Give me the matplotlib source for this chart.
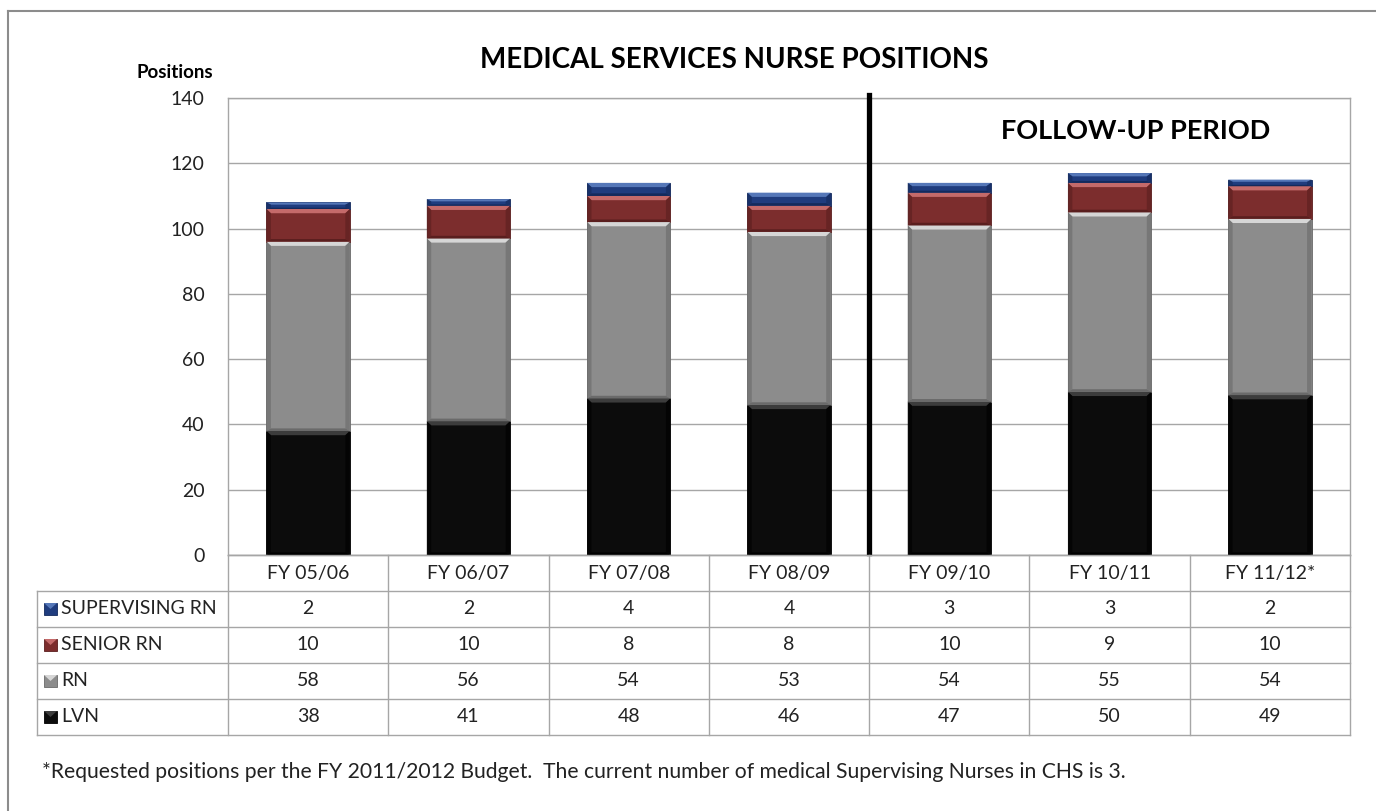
import matplotlib
matplotlib.use("Agg")
import matplotlib.pyplot as plt
from matplotlib.patches import Polygon, Rectangle
from matplotlib.lines import Line2D
from matplotlib.transforms import blended_transform_factory

plt.rcParams["font.family"] = ["Lato", "DejaVu Sans"]

YEARS = ["FY 05/06", "FY 06/07", "FY 07/08", "FY 08/09", "FY 09/10", "FY 10/11", "FY 11/12*"]
LVN = [38, 41, 48, 46, 47, 50, 49]
RN = [58, 56, 54, 53, 54, 55, 54]
SENIOR_RN = [10, 10, 8, 8, 10, 9, 10]
SUPERVISING_RN = [2, 2, 4, 4, 3, 3, 2]

SERIES = [
    ("LVN", LVN, "#0c0c0c", "#3c3c3c", "#000000"),
    ("RN", RN, "#8c8c8c", "#d6d6d6", "#6a6a6a"),
    ("SENIOR RN", SENIOR_RN, "#7c2d2d", "#c46a6a", "#5a1e1e"),
    ("SUPERVISING RN", SUPERVISING_RN, "#1f3c7e", "#5577b8", "#142a5c"),
]
TABLE_ORDER = ["SUPERVISING RN", "SENIOR RN", "RN", "LVN"]

W, H = 1376, 811
GRID = "#a6a6a6"
TXT = "#222222"
FS = 14


def fy(px):
    return 1 - px / H


def fx(px):
    return px / W


def bevel(ax, rect, face, light, dark):
    x, y = rect.get_x(), rect.get_y()
    w, h = rect.get_width(), rect.get_height()
    dx = 0.028
    dy = min(1.3, h / 3)
    # top highlight
    ax.add_patch(Polygon([(x, y + h), (x + w, y + h), (x + w - dx, y + h - dy), (x + dx, y + h - dy)],
                         closed=True, facecolor=light, edgecolor="none", zorder=3))
    # bottom shade
    ax.add_patch(Polygon([(x, y), (x + w, y), (x + w - dx, y + dy * 0.6), (x + dx, y + dy * 0.6)],
                         closed=True, facecolor=dark, edgecolor="none", zorder=3))
    # sides
    ax.add_patch(Polygon([(x, y), (x, y + h), (x + dx, y + h - dy), (x + dx, y + dy * 0.6)],
                         closed=True, facecolor=dark, edgecolor="none", alpha=0.6, zorder=3))
    ax.add_patch(Polygon([(x + w, y), (x + w, y + h), (x + w - dx, y + h - dy), (x + w - dx, y + dy * 0.6)],
                         closed=True, facecolor=dark, edgecolor="none", alpha=0.6, zorder=3))


fig = plt.figure(figsize=(W / 100, H / 100), dpi=100)
ax = fig.add_axes([fx(228), fy(555), fx(1350) - fx(228), fy(98) - fy(555)])

xs = list(range(len(YEARS)))
bottom = [0] * len(YEARS)
for name, vals, face, light, dark in SERIES:
    bars = ax.bar(xs, vals, bottom=bottom, width=0.52, color=face, edgecolor=dark, linewidth=0.6, zorder=2)
    for rect in bars:
        bevel(ax, rect, face, light, dark)
    bottom = [b + v for b, v in zip(bottom, vals)]

ax.set_xlim(-0.5, len(YEARS) - 0.5)
ax.set_ylim(0, 140)
ax.set_yticks(range(0, 141, 20))
ax.set_xticks([])
ax.tick_params(axis="y", length=0, pad=17, labelsize=FS, labelcolor=TXT)
ax.grid(axis="y", color=GRID, linewidth=1)
ax.set_axisbelow(True)
for s in ax.spines.values():
    s.set_color(GRID)
    s.set_linewidth(1)

# separator between baseline and follow-up period
ax.plot([3.5, 3.5], [0.5, 141], color="black", linewidth=3.8, clip_on=False, zorder=5)
ax.text(5.16, 130, "FOLLOW-UP PERIOD", fontsize=19.5, fontweight="bold", ha="center", va="center")

fig.text(fx(734), fy(60), "MEDICAL SERVICES NURSE POSITIONS", fontsize=20, fontweight="bold",
         ha="center", va="center")
fig.text(fx(175), fy(72), "Positions", fontsize=13.5, fontweight="bold", ha="center", va="center")

# data table below the axis
tr = blended_transform_factory(ax.transData, fig.transFigure)
rows_px = [555, 591, 627, 663, 699, 735]
edges = [i - 0.5 for i in range(len(YEARS) + 1)]
left_data = ax.transData.inverted().transform((fx(37) * W, 0))[0]

for i, y in enumerate(rows_px):
    x0 = -0.5 if i == 0 else left_data
    fig.add_artist(Line2D([x0, edges[-1]], [fy(y), fy(y)], transform=tr, color=GRID, linewidth=1))
for e in edges:
    fig.add_artist(Line2D([e, e], [fy(555), fy(735)], transform=tr, color=GRID, linewidth=1))
fig.add_artist(Line2D([left_data, left_data], [fy(591), fy(735)], transform=tr, color=GRID, linewidth=1))

for x, lab in zip(xs, YEARS):
    fig.text(x, fy(573), lab, transform=tr, ha="center", va="center", fontsize=FS, color=TXT)

lookup = {name: (vals, face, light, dark) for name, vals, face, light, dark in SERIES}
for r, name in enumerate(TABLE_ORDER):
    vals, face, light, dark = lookup[name]
    yc = (rows_px[r + 1] + rows_px[r + 2]) / 2
    fig.add_artist(Rectangle((fx(44), fy(yc + 6)), fx(13), fy(0) - fy(12), transform=fig.transFigure,
                             facecolor=face, edgecolor=dark, linewidth=0.6))
    fig.add_artist(Polygon([(fx(44), fy(yc - 6)), (fx(57), fy(yc - 6)), (fx(50.5), fy(yc))],
                           closed=True, transform=fig.transFigure, facecolor=light, edgecolor="none"))
    fig.text(fx(61), fy(yc), name, ha="left", va="center", fontsize=FS, color=TXT)
    for x, v in zip(xs, vals):
        fig.text(x, fy(yc), str(v), transform=tr, ha="center", va="center", fontsize=FS, color=TXT)

fig.text(fx(42), fy(772),
         "*Requested positions per the FY 2011/2012 Budget.  The current number of medical Supervising Nurses in CHS is 3.",
         ha="left", va="center", fontsize=15.2, color=TXT)

# outer frame (left and top edges visible)
fig.add_artist(Line2D([fx(8), fx(8)], [fy(11), 0], transform=fig.transFigure, color="#8c8c8c", linewidth=1.5))
fig.add_artist(Line2D([fx(8), 1], [fy(11), fy(11)], transform=fig.transFigure, color="#8c8c8c", linewidth=1.5))

fig.savefig("out.png", dpi=100)
